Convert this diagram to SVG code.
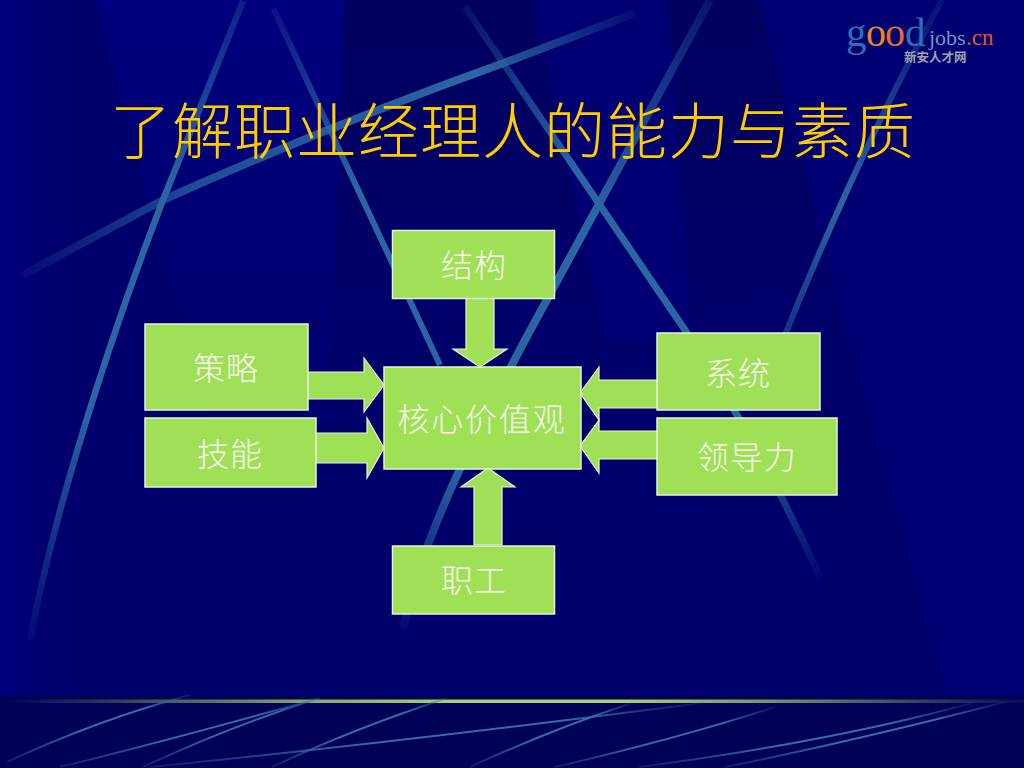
<svg xmlns="http://www.w3.org/2000/svg" width="1024" height="768" viewBox="0 0 1024 768">
<defs>
<linearGradient id="edge" x1="0" x2="1" y1="0" y2="0"><stop offset="0" stop-color="#000080"/><stop offset="0.4" stop-color="#000070"/><stop offset="1" stop-color="#00006c"/></linearGradient>
<linearGradient id="sheen" x1="0" x2="0" y1="0" y2="1"><stop offset="0" stop-color="#00007e"/><stop offset="0.5" stop-color="#00006e"/><stop offset="1" stop-color="#00006a"/></linearGradient>
<linearGradient id="dark1" x1="0" x2="0" y1="0" y2="1"><stop offset="0" stop-color="#000060"/><stop offset="0.55" stop-color="#00006a"/><stop offset="1" stop-color="#00006c"/></linearGradient>
<linearGradient id="green" x1="0" x2="1" y1="0" y2="0"><stop offset="0" stop-color="#a2d96a" stop-opacity="0"/><stop offset="0.3" stop-color="#a2d96a" stop-opacity="0.8"/><stop offset="0.45" stop-color="#a2d96a"/><stop offset="0.6" stop-color="#a2d96a"/><stop offset="0.75" stop-color="#a2d96a" stop-opacity="0.7"/><stop offset="1" stop-color="#a2d96a" stop-opacity="0.05"/></linearGradient>
<linearGradient id="thinfade" x1="0" x2="1" y1="0" y2="0"><stop offset="0" stop-color="#2f6ca8" stop-opacity="0.25"/><stop offset="0.4" stop-color="#2f6ca8"/><stop offset="0.75" stop-color="#2f6ca8"/><stop offset="1" stop-color="#2f6ca8" stop-opacity="0.15"/></linearGradient>
<linearGradient id="la" gradientUnits="userSpaceOnUse" x1="243" y1="0" x2="30" y2="640"><stop offset="0" stop-color="#2b66a3" stop-opacity="0.3"/><stop offset="0.3" stop-color="#2b66a3"/><stop offset="0.65" stop-color="#2b66a3"/><stop offset="1" stop-color="#2b66a3" stop-opacity="0.08"/></linearGradient>
<linearGradient id="lb" gradientUnits="userSpaceOnUse" x1="24" y1="274" x2="632" y2="14"><stop offset="0" stop-color="#2b66a3" stop-opacity="0.12"/><stop offset="0.3" stop-color="#2b66a3" stop-opacity="0.75"/><stop offset="0.75" stop-color="#2b66a3"/><stop offset="1" stop-color="#2b66a3" stop-opacity="0.12"/></linearGradient>
<linearGradient id="lc" gradientUnits="userSpaceOnUse" x1="273" y1="8" x2="440" y2="365"><stop offset="0" stop-color="#2b66a3" stop-opacity="0.2"/><stop offset="0.5" stop-color="#2b66a3"/><stop offset="1" stop-color="#2b66a3"/></linearGradient>
<linearGradient id="ld" gradientUnits="userSpaceOnUse" x1="465" y1="5" x2="820" y2="575"><stop offset="0" stop-color="#2b66a3" stop-opacity="0.15"/><stop offset="0.3" stop-color="#2b66a3"/><stop offset="0.75" stop-color="#2b66a3"/><stop offset="1" stop-color="#2b66a3" stop-opacity="0.08"/></linearGradient>
<linearGradient id="le" gradientUnits="userSpaceOnUse" x1="710" y1="0" x2="403" y2="630"><stop offset="0" stop-color="#2b66a3" stop-opacity="0.2"/><stop offset="0.35" stop-color="#2b66a3"/><stop offset="0.75" stop-color="#2b66a3"/><stop offset="1" stop-color="#2b66a3" stop-opacity="0.08"/></linearGradient>
<linearGradient id="lf" gradientUnits="userSpaceOnUse" x1="945" y1="0" x2="780" y2="340"><stop offset="0" stop-color="#2b66a3" stop-opacity="0.15"/><stop offset="0.6" stop-color="#2b66a3"/><stop offset="1" stop-color="#2b66a3" stop-opacity="0.45"/></linearGradient>
</defs>
<style>
.line{fill:none;stroke-linecap:butt}
.thin{fill:none;stroke:url(#thinfade);stroke-width:2}
.box{fill:#a0e056;stroke:#e6f2dc;stroke-width:1.5}
.arrow{fill:#a0e056;stroke:#e6f2dc;stroke-width:1.2}
.label{font-family:"Noto Sans CJK SC","Noto Sans",sans-serif;font-size:32px;font-weight:300;fill:#f4f8ee;text-anchor:middle;letter-spacing:1px}
.title{font-family:"Noto Sans CJK SC","Noto Sans",sans-serif;font-size:61px;font-weight:300;fill:#ffcc00;letter-spacing:1px}
.logo{font-family:"Liberation Serif",serif}
</style>
<g id="background">
<rect width="1024" height="768" fill="#00006c"/>
<rect width="92" height="700" fill="url(#edge)"/>
<polygon points="95,0 345,0 345,60 320,700 285,700" fill="url(#sheen)"/>
<polygon points="345,0 532,0 605,340 575,700 320,700" fill="url(#dark1)"/>
<polygon points="668,0 758,0 848,340 948,700 720,700 692,340" fill="url(#dark1)"/>
<polygon points="532,0 668,0 692,340 605,340" fill="#000072"/>
<polygon points="758,0 1024,0 1024,700 948,700 848,340" fill="#000072"/>
<rect y="696" width="1024" height="72" fill="#000054"/>
<path class="line" d="M243,1 L163,200 C130,285 60,480 30,640" stroke="url(#la)" stroke-width="6.500"/>
<path class="line" d="M23,275 L163,200 Q330,125 512,60 L635,13" stroke="url(#lb)" stroke-width="8"/>
<path class="line" d="M273,8 L440,365" stroke="url(#lc)" stroke-width="6"/>
<path class="line" d="M465,7 L685,330 Q760,445 820,577" stroke="url(#ld)" stroke-width="7"/>
<path class="line" d="M710,0 L525,340 C480,425 420,540 403,630" stroke="url(#le)" stroke-width="8"/>
<path class="line" d="M942,0 Q860,150 785,335" stroke="url(#lf)" stroke-width="6"/>
<rect x="5" y="699.500" width="1019" height="3.500" fill="url(#green)"/>
<path class="thin" d="M7,762 Q97,720 190,695"/>
<path class="thin" d="M60,767 Q170,740 320,698"/>
<path class="thin" d="M143,767 Q233,725 320,698"/>
<path class="thin" d="M150,767 Q400,742 702,703"/>
<path class="thin" d="M272,767 Q350,730 447,698"/>
<path class="thin" d="M470,767 Q550,730 632,703"/>
<path class="thin" d="M555,767 Q680,738 775,707"/>
<path class="thin" d="M639,767 Q830,742 972,703"/>
<path class="thin" d="M725,767 Q850,742 1005,702"/>
</g>
<g id="logo">
<text class="logo" x="846" y="46" font-size="41" fill="#2f6fb0">g</text>
<text class="logo" x="866" y="46" font-size="40" fill="#e88a20">o</text>
<text class="logo" x="885" y="46" font-size="40" fill="#e8701f">o</text>
<text class="logo" x="905" y="46" font-size="41" fill="#2f6fb0">d</text>
<text class="logo" x="929" y="45" font-size="22" fill="#6f97bb">jobs</text>
<text class="logo" x="966" y="45" font-size="23" fill="#e0562a">.cn</text>
<text x="904" y="62" font-family="'Noto Sans CJK SC',sans-serif" font-size="12.500px" font-weight="700" fill="#a2a2ac">新安人才网</text>
</g>
<text id="title" class="title" x="110" y="154">了解职业经理人的能力与素质</text>
<g id="connectors">
<polygon class="arrow" points="466,298 494,298 494,349 507,349 480,367 453,349 466,349"/>
<polygon class="arrow" points="308,372 364,372 364,358 384,385 364,412 364,399 308,399"/>
<polygon class="arrow" points="316,433 367,433 367,418 384,448 367,478 367,463 316,463"/>
<polygon class="arrow" points="657,380 599,380 599,367 580,393 599,420 599,408 657,408"/>
<polygon class="arrow" points="657,431 599,431 599,420 580,446 599,473 599,459 657,459"/>
<polygon class="arrow" points="474,545 474,487 461,487 488,468 515,487 502,487 502,545"/>
</g>
<g id="node-jiegou"><rect class="box" x="392.500" y="230.500" width="162" height="68"/><text class="label" x="474" y="277">结构</text></g>
<g id="node-celue"><rect class="box" x="145" y="324" width="163" height="86"/><text class="label" x="226" y="380">策略</text></g>
<g id="node-jineng"><rect class="box" x="145" y="418" width="171" height="69"/><text class="label" x="230" y="466">技能</text></g>
<g id="node-hexin"><rect class="box" x="384" y="367" width="197" height="102"/><text class="label" x="482" y="431" style="letter-spacing:1.800px">核心价值观</text></g>
<g id="node-xitong"><rect class="box" x="657" y="333" width="163" height="77"/><text class="label" x="738" y="385">系统</text></g>
<g id="node-lingdao"><rect class="box" x="657" y="418" width="180" height="77"/><text class="label" x="747" y="469" style="letter-spacing:1.500px">领导力</text></g>
<g id="node-zhigong"><rect class="box" x="392.500" y="546" width="162" height="68"/><text class="label" x="474" y="592">职工</text></g>
</svg>
